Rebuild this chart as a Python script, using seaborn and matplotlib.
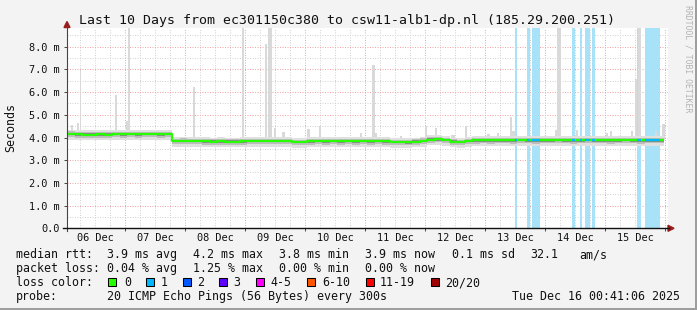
import numpy as np
import pandas as pd
import matplotlib
matplotlib.use("Agg")
import matplotlib.pyplot as plt
from matplotlib.patches import Rectangle, Polygon
from matplotlib.lines import Line2D
from matplotlib.ticker import MultipleLocator, FixedLocator
import seaborn as sns

# ---------------- data ----------------
TITLE = "Last 10 Days from ec301150c380 to csw11-alb1-dp.nl (185.29.200.251)"
Y_LABEL = "Seconds"
WATERMARK = "RRDTOOL / TOBI OETIKER"

# median rtt (ms), 3-hour bins starting Dec 6 00:48 (hours since Dec 6 00:00)
median_ms = [4.17, 4.14, 4.13, 4.13, 4.14, 4.13, 4.15, 4.14, 4.15, 4.14,
             4.16, 4.15, 4.14, 4.15, 3.85, 3.86, 3.85, 3.84, 3.83, 3.82,
             3.83, 3.82, 3.82, 3.83, 3.85, 3.85, 3.84, 3.85, 3.85, 3.84,
             3.81, 3.80, 3.83, 3.84, 3.83, 3.84, 3.83, 3.84, 3.83, 3.84,
             3.83, 3.84, 3.83, 3.80, 3.81, 3.79, 3.82, 3.86, 3.91, 3.92,
             3.89, 3.82, 3.81, 3.84, 3.87, 3.88, 3.87, 3.88, 3.88, 3.87,
             3.89, 3.88, 3.87, 3.88, 3.88, 3.89, 3.88, 3.87, 3.88, 3.89,
             3.88, 3.88, 3.87, 3.88, 3.89, 3.88, 3.87, 3.88, 3.88, 3.88]

# occasional slow pings (hour, width in hours, max rtt ms)
spike_hour = [2.8, 5.2, 6.2, 20.4, 24.8, 25.6, 38.0, 51.6, 71.3, 80.4,
              81.8, 84.0, 87.3, 97.3, 102.1, 118.4, 123.3, 124.3, 134.3, 144.5,
              148.5, 155.2, 160.5, 169.3, 173.3, 178.4, 179.3, 181.5, 196.5, 197.7,
              204.7, 216.7, 218.4, 226.8, 228.3, 229.6, 236.3, 239.3]
spike_width = [0.8, 0.8, 0.6, 0.8, 0.8, 1.0, 0.8, 0.8, 0.8, 0.8,
               1.6, 1.0, 1.0, 1.2, 0.8, 0.8, 1.0, 0.8, 1.0, 0.8,
               0.8, 1.3, 0.8, 1.3, 0.8, 0.8, 1.0, 1.0, 1.0, 1.6,
               1.0, 1.0, 1.0, 1.0, 0.8, 1.2, 0.8, 1.0]
spike_max_ms = [4.55, 4.62, 6.93, 5.87, 4.74, 9.0, 4.30, 6.24, 9.0, 8.10,
                9.0, 4.42, 4.25, 4.37, 4.49, 4.20, 7.19, 4.20, 4.05, 4.49,
                4.42, 4.12, 4.49, 4.15, 4.20, 4.90, 4.30, 4.05, 4.33, 9.0,
                4.33, 4.20, 4.30, 4.30, 6.56, 9.0, 4.28, 4.60]

# periods with 1/20 packet loss (hours since Dec 6 00:00)
loss_start_h = [179.9, 184.8, 186.8, 202.8, 206.0, 208.0, 210.8, 228.8, 232.0]
loss_end_h = [180.8, 186.1, 190.0, 204.1, 206.8, 209.9, 212.0, 230.3, 238.0]

day_labels = ["06 Dec", "07 Dec", "08 Dec", "09 Dec", "10 Dec",
              "11 Dec", "12 Dec", "13 Dec", "14 Dec", "15 Dec"]
y_ticks = [0, 1, 2, 3, 4, 5, 6, 7, 8]
y_tick_labels = ["0.0", "1.0 m", "2.0 m", "3.0 m", "4.0 m",
                 "5.0 m", "6.0 m", "7.0 m", "8.0 m"]

row_titles = ["median rtt:", "packet loss:", "loss color:", "probe:"]
median_stats = ["3.9 ms avg", "4.2 ms max", "3.8 ms min", "3.9 ms now",
                "0.1 ms sd", "32.1", "am/s"]
loss_stats = ["0.04 % avg", "1.25 % max", "0.00 % min", "0.00 % now"]
loss_labels = ["0", "1", "2", "3", "4-5", "6-10", "11-19", "20/20"]
loss_colors = ["#26ff00", "#00b8ff", "#0059ff", "#5e00ff",
               "#ff00ff", "#ff5500", "#ff0000", "#a10000"]
probe_text = "20 ICMP Echo Pings (56 Bytes) every 300s"
date_text = "Tue Dec 16 00:41:06 2025"

# ---------------- style / layout ----------------
W, H = 697, 310
MONO = "DejaVu Sans Mono"
BG = "#f3f3f3"
X0PX = 65.0          # pixel of Dec 6 00:00
PX_PER_H = 2.5
PX_PER_MS = 22.7
AX_L, AX_R, AX_T, AX_B = 67, 668, 28.3, 228.3
BIN_START, BIN_H, DATA_END = 0.8, 3.0, 239.6

def fx(x):
    return x / W

def fy(y):
    return 1 - y / H

fig = plt.figure(figsize=(W / 100, H / 100), dpi=100, facecolor=BG)
ax = fig.add_axes([fx(AX_L), fy(AX_B), (AX_R - AX_L) / W, (AX_B - AX_T) / H])
ax.set_facecolor("white")
ax.set_xlim((AX_L - X0PX) / PX_PER_H, (AX_R - X0PX) / PX_PER_H)
ax.set_ylim(0, (AX_B - AX_T) / PX_PER_MS)
for s in ax.spines.values():
    s.set_visible(False)

# grid
ax.xaxis.set_major_locator(MultipleLocator(24))
ax.xaxis.set_minor_locator(MultipleLocator(6))
ax.yaxis.set_major_locator(FixedLocator(y_ticks))
ax.yaxis.set_minor_locator(MultipleLocator(0.5))
ax.set_axisbelow(True)
ax.grid(which="minor", color="#d2d2d2", lw=0.72, ls=(0, (1, 1.5)))
ax.grid(which="major", color="#f4a4a4", lw=0.72, ls=(0, (1, 1.5)))
ax.tick_params(axis="x", which="major", direction="out", length=2.5, width=0.7,
               color="#444444", labelbottom=False)
ax.tick_params(axis="x", which="minor", length=0)
ax.tick_params(axis="y", which="major", direction="out", length=2.5, width=0.7,
               color="#444444", pad=2.6, labelsize=7.4, labelcolor="#111111")
ax.tick_params(axis="y", which="minor", length=0)
ax.set_yticklabels(y_tick_labels, fontfamily=MONO)

# bins
edges = np.minimum(BIN_START + BIN_H * np.arange(len(median_ms) + 1), DATA_END)
med = np.array(median_ms)
med_ext = np.append(med, med[-1])

# loss backgrounds
for s, e in zip(loss_start_h, loss_end_h):
    ax.axvspan(s, e, color="#a8e2f8", lw=0, zorder=1)

# spikes (slow single pings)
base_idx = np.clip(np.searchsorted(edges, spike_hour) - 1, 0, len(med) - 1)
ax.bar(spike_hour, np.array(spike_max_ms) - med[base_idx], bottom=med[base_idx],
       width=spike_width, color="#d9d9d9", lw=0, zorder=2)

# smoke layers
for lo, hi, col in [(-0.26, 0.18, "#e0e0e0"), (-0.14, 0.10, "#bdbdbd"),
                    (-0.06, 0.05, "#8a8a8a")]:
    ax.fill_between(edges, med_ext + lo, med_ext + hi, step="post",
                    color=col, lw=0, zorder=3)

# median line (green = no loss)
df = pd.DataFrame({"hour": edges, "rtt": med_ext})
sns.lineplot(data=df, x="hour", y="rtt", ax=ax, color=loss_colors[0], lw=1.6,
             drawstyle="steps-post", zorder=4, solid_capstyle="butt")
# blue where one packet lost
for s, e in zip(loss_start_h, loss_end_h):
    xs = [s] + [b for b in edges if s < b < e] + [e]
    ys = [med[min(np.searchsorted(edges, v, side="right") - 1, len(med) - 1)]
          for v in xs]
    ax.plot(xs, ys, color=loss_colors[1], lw=1.6, drawstyle="steps-post",
            zorder=5, solid_capstyle="butt")
ax.set_xlabel("")
ax.set_ylabel("")

# x day labels at noon
for i, lab in enumerate(day_labels):
    ax.text(12 + 24 * i, -(241 - AX_B) / (AX_B - AX_T), lab,
            transform=ax.get_xaxis_transform(), ha="center", va="baseline",
            fontsize=7.4, family=MONO, color="#111111")

# axis lines and arrows
fig.add_artist(Line2D([fx(AX_L), fx(AX_L)], [fy(231), fy(26)], color="#444444",
                      lw=0.8, transform=fig.transFigure))
fig.add_artist(Line2D([fx(63), fx(669)], [fy(AX_B), fy(AX_B)], color="#111111",
                      lw=1.0, transform=fig.transFigure))
fig.add_artist(Polygon([[fx(AX_L - 3), fy(27.5)], [fx(AX_L + 3), fy(27.5)],
                        [fx(AX_L), fy(21.5)]], closed=True, color="#9b1c1c",
                       transform=fig.transFigure))
fig.add_artist(Polygon([[fx(668), fy(AX_B - 3)], [fx(668), fy(AX_B + 3)],
                        [fx(674), fy(AX_B)]], closed=True, color="#9b1c1c",
                       transform=fig.transFigure))

# title, y label, watermark
fig.text(fx(346.7), fy(24), TITLE, ha="center", va="baseline", fontsize=9.5,
         family=MONO, color="#111111")
fig.text(fx(10.5), fy(128), Y_LABEL, ha="center", va="center", rotation=90,
         fontsize=8.4, family=MONO, color="#111111")
fig.text(fx(687.7), fy(5), WATERMARK, ha="center", va="top", rotation=270,
         fontsize=5.9, family=MONO, color="#b4b4b4")

# legend rows
LF = 8.4
base = [258.3, 272.3, 286.0, 300.0]
for t, b in zip(row_titles, base):
    fig.text(fx(16), fy(b), t, ha="left", va="baseline", fontsize=LF,
             family=MONO, color="#111111")
col_x = [107.3, 193.0, 279.3, 365.3, 451.7, 530.0, 579.3]
for t, xx in zip(median_stats, col_x):
    fig.text(fx(xx), fy(base[0]), t, ha="left", va="baseline", fontsize=LF,
             family=MONO, color="#111111")
for t, xx in zip(loss_stats, col_x):
    fig.text(fx(xx), fy(base[1]), t, ha="left", va="baseline", fontsize=LF,
             family=MONO, color="#111111")
sq_x = [108.3, 145.7, 182.7, 219.3, 256.0, 306.7, 365.7, 430.7]
lab_x = [124.3, 160.3, 197.0, 233.0, 270.7, 322.3, 380.0, 445.0]
for lab, col, sx, lx in zip(loss_labels, loss_colors, sq_x, lab_x):
    fig.add_artist(Rectangle((fx(sx), fy(286.0)), 8 / W, 8 / H, facecolor=col,
                             edgecolor="black", lw=0.75, transform=fig.transFigure))
    fig.text(fx(lx), fy(base[2]), lab, ha="left", va="baseline", fontsize=LF,
             family=MONO, color="#111111")
fig.text(fx(107.3), fy(base[3]), probe_text, ha="left", va="baseline",
         fontsize=LF, family=MONO, color="#111111")
fig.text(fx(680), fy(base[3]), date_text, ha="right", va="baseline",
         fontsize=LF, family=MONO, color="#111111")

# frame shading
fig.add_artist(Rectangle((fx(695), 0), 2 / W, 1, facecolor="#9e9e9e", lw=0,
                         transform=fig.transFigure))
fig.add_artist(Rectangle((0, 0), 1, 2 / H, facecolor="#9e9e9e", lw=0,
                         transform=fig.transFigure))

fig.savefig("out.png", dpi=100, facecolor=BG)
